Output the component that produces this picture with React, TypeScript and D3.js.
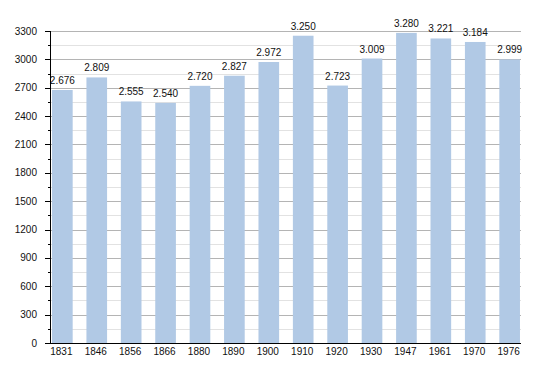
import * as d3 from 'd3';
import { useEffect, useRef } from 'react';

// Population by census year
const YEARS = ['1831', '1846', '1856', '1866', '1880', '1890', '1900', '1910', '1920', '1930', '1947', '1961', '1970', '1976'];
const POPULATION = [2676, 2809, 2555, 2540, 2720, 2827, 2972, 3250, 2723, 3009, 3280, 3221, 3184, 2999];
const Y_TICKS = [0, 300, 600, 900, 1200, 1500, 1800, 2100, 2400, 2700, 3000, 3300];

const WIDTH = 550;
const HEIGHT = 373;
const FONT = '"Liberation Sans", Arial, Helvetica, sans-serif';

export default function App() {
  const svgRef = useRef<SVGSVGElement>(null);

  useEffect(() => {
    if (!svgRef.current) return;
    const svg = d3.select(svgRef.current);
    svg.selectAll('*').remove();

    const margin = { top: 31, right: 29, bottom: 30, left: 51 };
    const x0 = margin.left;
    const x1 = WIDTH - margin.right;
    const y0 = HEIGHT - margin.bottom;
    const y1 = margin.top;

    const x = d3.scaleBand<string>().domain(YEARS).range([x0, x1]).paddingInner(0.4).paddingOuter(0.03);
    const y = d3.scaleLinear().domain([0, 3300]).range([y0, y1]);

    // minor gridlines (every 150)
    const minor = d3.range(150, 3300, 300);
    svg
      .append('g')
      .selectAll('line')
      .data(minor)
      .enter()
      .append('line')
      .attr('x1', x0)
      .attr('x2', x1)
      .attr('y1', (d) => Math.round(y(d)) + 0.5)
      .attr('y2', (d) => Math.round(y(d)) + 0.5)
      .attr('stroke', '#e2e2e2')
      .attr('stroke-width', 1);

    // major gridlines
    svg
      .append('g')
      .selectAll('line')
      .data(Y_TICKS.filter((d) => d > 0))
      .enter()
      .append('line')
      .attr('x1', x0)
      .attr('x2', x1)
      .attr('y1', (d) => Math.round(y(d)) + 0.5)
      .attr('y2', (d) => Math.round(y(d)) + 0.5)
      .attr('stroke', '#b4b4b4')
      .attr('stroke-width', 1);

    // bars
    svg
      .append('g')
      .selectAll('rect')
      .data(POPULATION)
      .enter()
      .append('rect')
      .attr('x', (_d, i) => x(YEARS[i]) as number)
      .attr('width', x.bandwidth())
      .attr('y', (d) => y(d))
      .attr('height', (d) => y0 - y(d))
      .attr('fill', '#b1c9e5');

    // value labels
    svg
      .append('g')
      .selectAll('text')
      .data(POPULATION)
      .enter()
      .append('text')
      .attr('x', (_d, i) => (x(YEARS[i]) as number) + x.bandwidth() / 2)
      .attr('y', (d) => y(d) - 6)
      .attr('text-anchor', 'middle')
      .attr('font-family', FONT)
      .attr('font-size', 10)
      .attr('fill', '#111')
      .text((d) => d3.format(',')(d).replace(',', '.'));

    // y axis
    const axis = svg.append('g');
    axis
      .append('line')
      .attr('x1', x0 - 0.5)
      .attr('x2', x0 - 0.5)
      .attr('y1', y1)
      .attr('y2', y0)
      .attr('stroke', '#000');
    axis
      .selectAll('line.major')
      .data(Y_TICKS)
      .enter()
      .append('line')
      .attr('class', 'major')
      .attr('x1', x0 - 6)
      .attr('x2', x0)
      .attr('y1', (d) => Math.round(y(d)) + 0.5)
      .attr('y2', (d) => Math.round(y(d)) + 0.5)
      .attr('stroke', '#000');
    axis
      .selectAll('line.minor')
      .data(minor)
      .enter()
      .append('line')
      .attr('class', 'minor')
      .attr('x1', x0 - 3)
      .attr('x2', x0)
      .attr('y1', (d) => Math.round(y(d)) + 0.5)
      .attr('y2', (d) => Math.round(y(d)) + 0.5)
      .attr('stroke', '#000');
    axis
      .selectAll('text')
      .data(Y_TICKS)
      .enter()
      .append('text')
      .attr('x', x0 - 14)
      .attr('y', (d) => y(d) + 3.5)
      .attr('text-anchor', 'end')
      .attr('font-family', FONT)
      .attr('font-size', 10)
      .attr('fill', '#111')
      .text((d) => String(d));

    // x axis
    svg
      .append('line')
      .attr('x1', x0 - 6)
      .attr('x2', x1)
      .attr('y1', Math.round(y0) + 0.5)
      .attr('y2', Math.round(y0) + 0.5)
      .attr('stroke', '#000');
    svg
      .append('g')
      .selectAll('text')
      .data(YEARS)
      .enter()
      .append('text')
      .attr('x', (d) => (x(d) as number) + x.bandwidth() / 2 - 1)
      .attr('y', y0 + 12)
      .attr('text-anchor', 'middle')
      .attr('font-family', FONT)
      .attr('font-size', 10)
      .attr('fill', '#111')
      .text((d) => d);
  }, []);

  return (
    <svg
      ref={svgRef}
      width={WIDTH}
      height={HEIGHT}
      style={{ position: 'absolute', left: 0, top: 0, background: '#fff' }}
    />
  );
}
